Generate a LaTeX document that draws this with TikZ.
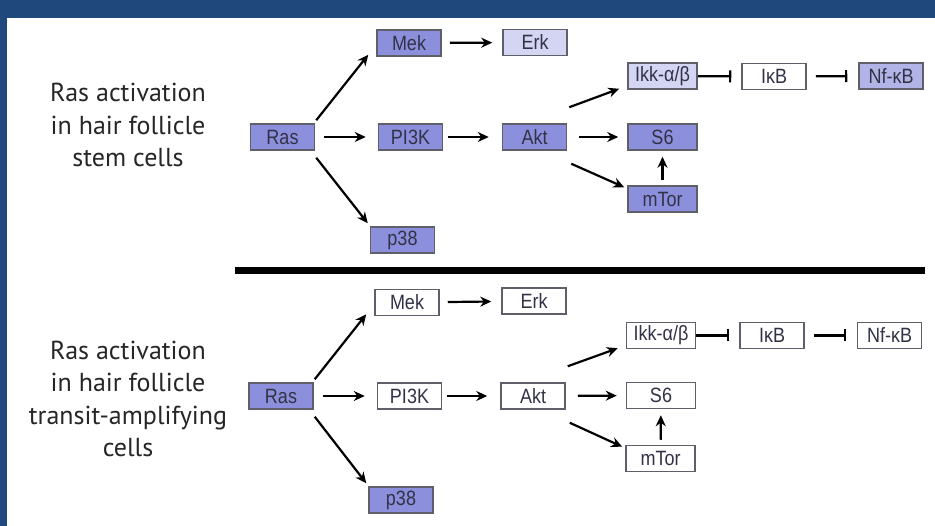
\documentclass[tikz,border=0pt]{standalone}
\usepackage{fontspec}
\setmainfont{Liberation Sans}
\newfontfamily\labelfont{PT Sans}
\usetikzlibrary{arrows.meta}
\definecolor{frameblue}{RGB}{31,72,124}
\definecolor{boxblue}{RGB}{140,144,220}
\definecolor{boxlight}{RGB}{212,212,243}
\definecolor{boxmid}{RGB}{178,180,232}
\definecolor{boxline}{RGB}{95,95,105}
\definecolor{boxtext}{RGB}{50,50,70}
\newcommand{\tallt}[1]{\scalebox{1}[1.15]{#1}}
\tikzset{
  prot/.style={draw=boxline, line width=1.5pt, rectangle, inner sep=0pt,
    minimum width=64pt, minimum height=26pt, text=boxtext,
    font=\fontsize{18}{18}\selectfont},
  wide/.style={minimum width=69pt},
  blue/.style={fill=boxblue},
  light/.style={fill=boxlight},
  mid/.style={fill=boxmid},
  white/.style={fill=white},
  arr/.style={line width=2.2pt, -{Stealth[length=11pt,width=10pt]}},
  inh/.style={line width=2.2pt, -{Bar[width=12pt,line width=2.2pt]}},
  sidelabel/.style={align=center, font=\labelfont\fontsize{26}{32.5}\selectfont, text=black!85}
}
\begin{document}
\begin{tikzpicture}[x=1pt,y=-1pt]
\useasboundingbox (0,0) rectangle (935,526);
\fill[white] (0,0) rectangle (935,526);
\fill[frameblue] (0,0) rectangle (935,18);
\fill[frameblue] (0,0) rectangle (7,526);

% side labels
\node[sidelabel] (lab1) at (128,125) {Ras activation\\in hair follicle\\stem cells};
\node[sidelabel] (lab2) at (128,399) {Ras activation\\in hair follicle\\transit-amplifying\\cells};

% separator
\coordinate (sepL) at (235,270.5);
\coordinate (sepR) at (925,270.5);
\draw[line width=7.5pt] (sepL) -- (sepR);

% ---------- top panel ----------
\node[prot,blue]  (mek1) at (409,43)    {\tallt{Mek}};
\node[prot,light] (erk1) at (535,42.5)  {\tallt{Erk}};
\node[prot,blue]  (ras1) at (282.5,137) {\tallt{Ras}};
\node[prot,blue]  (pi1)  at (410.5,137) {\tallt{PI3K}};
\node[prot,blue]  (akt1) at (534.5,137) {\tallt{Akt}};
\node[prot,blue]  (p381) at (402.5,240) {\tallt{p38}};
\node[prot,wide,light] (ikk1) at (662.5,76) {\tallt{Ikk-α/β}};
\node[prot,white] (ikb1) at (774,76.5) {\tallt{IκB}};
\node[prot,mid]   (nfk1) at (891,76)  {\tallt{Nf-κB}};
\node[prot,wide,blue] (s61) at (662.5,137) {\tallt{S6}};
\node[prot,wide,blue] (mt1) at (662.5,199) {\tallt{mTor}};

\draw[arr] ([shift={(1pt,3pt)}]ras1.north east) -- ([shift={(-8pt,2pt)}]mek1.south west);
\draw[arr] ([shift={(1pt,-7pt)}]ras1.south east) -- ([shift={(-2pt,3pt)}]p381.north west);
\draw[arr, shorten <=9pt, shorten >=12pt] (ras1) -- (pi1);
\draw[arr, shorten <=5pt, shorten >=13pt] (pi1) -- (akt1);
\draw[arr, shorten <=8pt, shorten >=10pt] (mek1) -- (erk1);
\draw[arr] ([shift={(2pt,16pt)}]akt1.north east) -- ([shift={(-8pt,1pt)}]ikk1.south west);
\draw[arr, shorten <=12pt, shorten >=9pt] (akt1) -- (s61);
\draw[arr] ([shift={(4pt,-13pt)}]akt1.south east) -- ([shift={(-3pt,-2pt)}]mt1.north west);
\draw[arr, shorten <=5pt, shorten >=6pt] (mt1) -- (s61);
\draw[inh, shorten >=10pt] (ikk1) -- (ikb1);
\draw[inh, shorten <=9pt, shorten >=11pt] (ikb1) -- (nfk1);

% ---------- bottom panel ----------
\node[prot,white] (mek2) at (407,302.5) {\tallt{Mek}};
\node[prot,white] (erk2) at (534,301)   {\tallt{Erk}};
\node[prot,blue]  (ras2) at (281,396)   {\tallt{Ras}};
\node[prot,white] (pi2)  at (409.5,396) {\tallt{PI3K}};
\node[prot,white] (akt2) at (533,396)   {\tallt{Akt}};
\node[prot,blue]  (p382) at (401,500)   {\tallt{p38}};
\node[prot,wide,white] (ikk2) at (661,335.5) {\tallt{Ikk-α/β}};
\node[prot,white] (ikb2) at (772,335.5) {\tallt{IκB}};
\node[prot,white] (nfk2) at (889.5,335.5) {\tallt{Nf-κB}};
\node[prot,wide,white] (s62) at (661,395.5) {\tallt{S6}};
\node[prot,wide,white] (mt2) at (660.5,458.5) {\tallt{mTor}};

\draw[arr] ([shift={(1pt,3pt)}]ras2.north east) -- ([shift={(-8pt,2pt)}]mek2.south west);
\draw[arr] ([shift={(1pt,-7pt)}]ras2.south east) -- ([shift={(-2pt,3pt)}]p382.north west);
\draw[arr, shorten <=9pt, shorten >=12pt] (ras2) -- (pi2);
\draw[arr, shorten <=5pt, shorten >=13pt] (pi2) -- (akt2);
\draw[arr, shorten <=8pt, shorten >=10pt] (mek2) -- (erk2);
\draw[arr] ([shift={(2pt,16pt)}]akt2.north east) -- ([shift={(-8pt,1pt)}]ikk2.south west);
\draw[arr, shorten <=12pt, shorten >=9pt] (akt2) -- (s62);
\draw[arr] ([shift={(4pt,-13pt)}]akt2.south east) -- ([shift={(-3pt,-2pt)}]mt2.north west);
\draw[arr, shorten <=5pt, shorten >=6pt] (mt2) -- (s62);
\draw[inh, shorten >=10pt] (ikk2) -- (ikb2);
\draw[inh, shorten <=9pt, shorten >=11pt] (ikb2) -- (nfk2);
\end{tikzpicture}
\end{document}
